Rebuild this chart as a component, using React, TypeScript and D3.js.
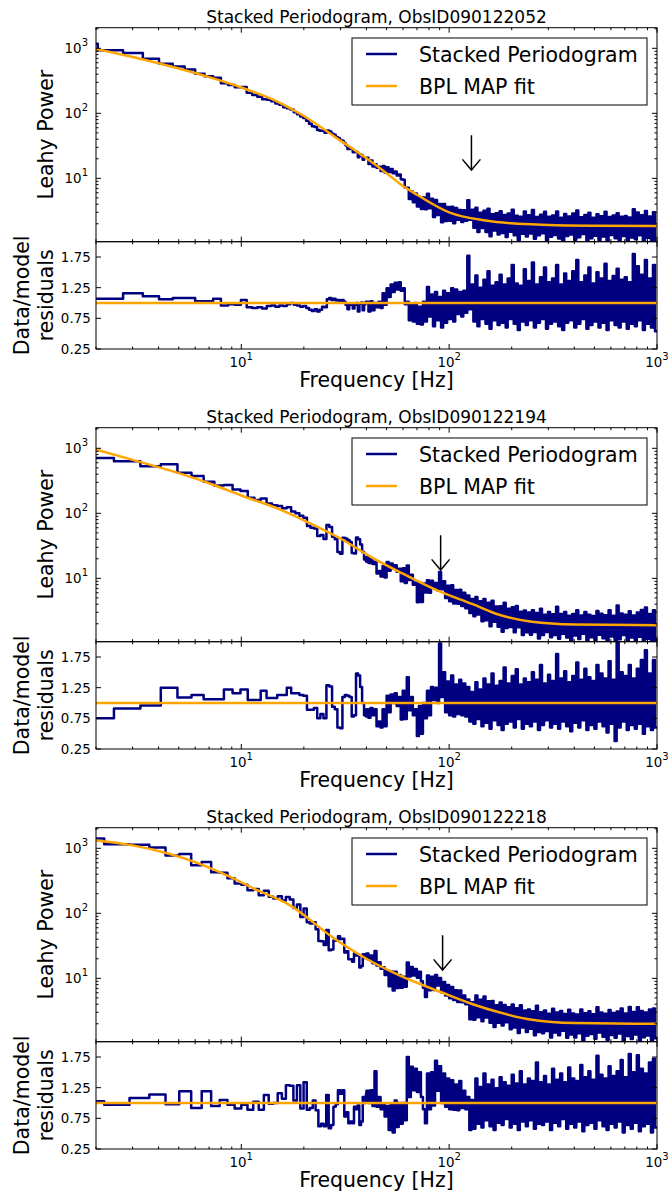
import React from "react";
import * as d3 from "d3";

type Pt = { f: number; fEval: number; r: number };

// ---------------- data ----------------
const TITLES = [
  "Stacked Periodogram, ObsID090122052",
  "Stacked Periodogram, ObsID090122194",
  "Stacked Periodogram, ObsID090122218",
];
const SERIES_LABEL = "Stacked Periodogram";
const FIT_LABEL = "BPL MAP fit";
const X_LABEL = "Frequency [Hz]";
const Y_LABEL = "Leahy Power";
const RES_LABEL = ["Data/model", "residuals"];

const FREQ_DOMAIN: [number, number] = [2, 1000];
const POWER_DOMAIN: [number, number] = [1.06, 2075];
const RESID_DOMAIN: [number, number] = [0.25, 2.0];
const RESID_TICKS = [0.25, 0.75, 1.25, 1.75];

// fitted BPL model curves (frequency [Hz], Leahy power)
const p1ModelFreq = [2, 3, 5, 7, 10, 15, 20, 30, 40, 50, 60, 70, 100, 150, 200, 300, 500, 1000];
const p1ModelPower = [980, 735, 488, 360, 250, 150, 91, 38, 20.3, 12, 7.6, 5.6, 3.0, 2.25, 2.03, 1.92, 1.87, 1.85];
const p2ModelFreq = [2, 3, 5, 7, 10, 15, 20, 30, 43, 60, 87, 130, 174, 250, 400, 1000];
const p2ModelPower = [960, 665, 415, 290, 188, 118, 78, 41, 20.5, 11.8, 6.6, 4.0, 2.75, 2.15, 1.95, 1.9];
const p3ModelFreq = [2, 3, 4.4, 5.9, 8.8, 11.4, 17.1, 28, 40, 58, 93, 130, 174, 250, 400, 1000];
const p3ModelPower = [1320, 1110, 840, 625, 366, 243, 134, 41, 20, 11, 6.0, 4.0, 3.0, 2.3, 2.05, 2.0];

// low-frequency periodogram bins (data/model), bins of constant width
const p1LowStart = 1.38;
const p1LowStep = 0.66;
const p1LowResid = [
  1.07, 1.07, 1.16, 1.11, 1.06, 1.08, 1.08, 1.03, 1.03, 1.07,
  0.96, 0.98, 0.97, 1.05, 0.93, 0.92, 0.93, 0.91, 0.95, 0.96,
  0.94, 0.96, 0.95, 0.98, 1.0, 0.97, 0.96, 0.94, 0.95, 0.92,
  0.89, 0.87, 0.9, 0.86, 0.89, 0.94, 0.93, 1.06, 1.08, 1.05,
  1.07, 1.04, 1.05, 1.03, 1.05, 1.02, 0.97, 0.9, 0.97, 0.98,
  0.91, 0.97, 1.0, 0.86, 0.99, 1.01, 0.88, 0.98, 1.02,
];
const p2LowStart = 1.61;
const p2LowStep = 0.83;
const p2LowResid = [
  0.75, 0.91, 0.96, 1.25, 1.09, 1.13, 1.06, 1.06, 1.22, 1.16,
  1.22, 1.05, 1.05, 1.2, 1.08, 1.08, 1.13, 1.13, 1.25, 1.16,
  1.16, 1.13, 1.12, 0.89, 0.89, 0.92, 0.75, 0.82, 0.75, 1.29,
  1.27, 0.94, 0.9, 0.6, 0.59, 1.1, 1.13, 1.12, 1.1, 0.78,
  0.8, 1.48, 1.45, 1.26, 1.0, 0.8, 0.78,
];
const p3LowStart = 1.48;
const p3LowStep = 0.71;
const p3LowResid = [
  1.03, 0.97, 1.08, 1.14, 0.98, 1.19, 0.92, 1.19, 0.95, 1.05,
  0.97, 0.91, 0.97, 0.89, 1.02, 0.89, 1.13, 0.99, 1.0, 1.16,
  1.07, 1.29, 1.28, 1.04, 1.29, 0.91, 1.34, 0.89, 0.92, 1.04,
  0.88, 0.62, 0.66, 0.62, 1.13, 0.59, 0.64, 0.94, 0.98, 1.21,
  1.15, 1.21, 0.78, 0.85, 0.67, 0.7, 0.67, 0.94, 0.9, 0.96,
  0.64, 0.7, 1.1, 1.0, 1.15,
];

// high-frequency part: upper / lower extremes of data/model in log-spaced bins from 40 Hz to 1000 Hz
const ENV_FROM = 40;
const ENV_TO = 1000;
const p1EnvHi = [
  1.02, 1.03, 1.0, 1.02, 1.16, 1.24, 1.3, 1.33, 1.34, 1.24,
  1.02, 0.98, 1.0, 0.94, 1.02, 1.26, 1.14, 1.18, 1.1, 1.2,
  1.16, 1.24, 1.22, 1.18, 1.2, 1.77,
  1.3, 1.45, 1.25, 1.38, 1.52, 1.28, 1.34, 1.46, 1.3, 1.4,
  1.62, 1.32, 1.28, 1.55, 1.36, 1.66, 1.3, 1.42, 1.58, 1.34,
  1.4, 1.62, 1.3, 1.48, 1.36, 1.52, 1.7, 1.34, 1.45, 1.58,
  1.32, 1.5, 1.4, 1.64, 1.36, 1.44, 1.56, 1.38, 1.42, 1.34,
  1.8, 1.6, 1.46, 1.7, 1.4, 1.62,
];
const p1EnvLo = [
  0.86, 0.88, 0.93, 0.92, 0.97, 1.1, 1.18, 1.22, 1.2, 0.98,
  0.72, 0.7, 0.66, 0.65, 0.7, 0.78, 0.62, 0.72, 0.6, 0.68,
  0.74, 0.7, 0.82, 0.78, 0.84, 0.9,
  0.7, 0.62, 0.74, 0.66, 0.58, 0.72, 0.64, 0.68, 0.6, 0.74,
  0.66, 0.56, 0.7, 0.64, 0.72, 0.6, 0.68, 0.74, 0.58, 0.66,
  0.7, 0.62, 0.56, 0.68, 0.72, 0.6, 0.66, 0.74, 0.58, 0.64,
  0.7, 0.6, 0.68, 0.56, 0.72, 0.64, 0.6, 0.7, 0.58, 0.66,
  0.62, 0.72, 0.56, 0.66, 0.6, 0.54,
];
const p2EnvHi = [
  0.9, 0.92, 0.9, 0.7, 0.9, 1.12, 1.14, 1.16, 1.1, 1.2,
  1.42, 1.1, 0.9, 0.95, 1.0, 1.2, 1.26, 1.25, 1.97, 1.5,
  1.35, 1.45, 1.3, 1.38, 1.32,
  1.26, 1.18, 1.34, 1.22, 1.4, 1.3, 1.48, 1.28, 1.36, 1.58,
  1.32, 1.44, 1.55, 1.3, 1.4, 1.34, 1.5, 1.38, 1.62, 1.32,
  1.46, 1.36, 1.8, 1.4, 1.52, 1.34, 1.44, 1.66, 1.38, 1.56,
  1.42, 1.36, 1.62, 1.48, 1.4, 1.68, 1.38, 1.99, 1.5, 1.44,
  1.62, 1.4, 1.56, 1.7, 1.86, 1.48, 1.7,
];
const p2EnvLo = [
  0.76, 0.8, 0.62, 0.6, 0.62, 0.85, 1.0, 0.95, 0.73, 0.74,
  0.88, 0.8, 0.46, 0.5, 0.75, 0.8, 1.05, 1.0, 1.1, 0.85,
  0.8, 0.78, 0.82, 0.8, 0.78,
  0.7, 0.66, 0.74, 0.62, 0.68, 0.58, 0.72, 0.64, 0.56, 0.66,
  0.7, 0.6, 0.74, 0.58, 0.66, 0.62, 0.7, 0.56, 0.64, 0.72,
  0.6, 0.66, 0.58, 0.7, 0.62, 0.54, 0.68, 0.6, 0.72, 0.56,
  0.64, 0.58, 0.7, 0.62, 0.52, 0.66, 0.38, 0.6, 0.7, 0.56,
  0.64, 0.58, 0.66, 0.5, 0.62, 0.56, 0.6,
];
const p3EnvHi = [
  1.2, 1.21, 1.52, 1.1, 0.99, 0.95, 0.98, 1.04, 1.0, 1.0,
  1.75, 1.59, 1.56, 1.5, 0.9, 1.48, 1.5, 1.69, 1.6, 1.48,
  1.4, 1.37, 1.3, 1.36, 1.2,
  1.1, 1.05, 1.4, 1.26, 1.48, 1.3, 1.38, 1.24, 1.42, 1.34,
  1.28, 1.46, 1.32, 1.52, 1.3, 1.4, 1.36, 1.66, 1.34, 1.44,
  1.3, 1.56, 1.38, 1.48, 1.34, 1.58, 1.4, 1.36, 1.62, 1.42,
  1.52, 1.38, 1.77, 1.46, 1.4, 1.6, 1.44, 1.52, 1.7, 1.42,
  1.8, 1.5, 1.78, 1.56, 1.48, 1.66, 1.72,
];
const p3EnvLo = [
  1.0, 0.95, 0.94, 0.9, 0.78, 0.56, 0.52, 0.61, 0.66, 0.72,
  1.1, 1.21, 1.18, 1.1, 0.67, 0.9, 0.96, 1.2, 1.0, 0.94,
  0.9, 0.89, 0.88, 0.92, 0.9,
  0.56, 0.58, 0.66, 0.6, 0.72, 0.62, 0.56, 0.68, 0.64, 0.74,
  0.6, 0.66, 0.56, 0.7, 0.62, 0.72, 0.58, 0.66, 0.64, 0.7,
  0.56, 0.68, 0.62, 0.74, 0.58, 0.66, 0.6, 0.7, 0.54, 0.64,
  0.68, 0.58, 0.72, 0.62, 0.56, 0.66, 0.6, 0.7, 0.52, 0.64,
  0.58, 0.68, 0.54, 0.62, 0.66, 0.52, 0.6,
];

// arrows marking the QPO candidate
const ARROW_FREQS = [128, 91, 93];
const ARROW_FROM = 46;
const ARROW_TO = 13.4;

const PANELS = [
  { title: TITLES[0], modelFreq: p1ModelFreq, modelPower: p1ModelPower, lowStart: p1LowStart, lowStep: p1LowStep, lowResid: p1LowResid, envHi: p1EnvHi, envLo: p1EnvLo, arrow: ARROW_FREQS[0] },
  { title: TITLES[1], modelFreq: p2ModelFreq, modelPower: p2ModelPower, lowStart: p2LowStart, lowStep: p2LowStep, lowResid: p2LowResid, envHi: p2EnvHi, envLo: p2EnvLo, arrow: ARROW_FREQS[1] },
  { title: TITLES[2], modelFreq: p3ModelFreq, modelPower: p3ModelPower, lowStart: p3LowStart, lowStep: p3LowStep, lowResid: p3LowResid, envHi: p3EnvHi, envLo: p3EnvLo, arrow: ARROW_FREQS[2] },
];

// ---------------- layout ----------------
const WIDTH = 670;
const HEIGHT = 1193;
const FONT = "'DejaVu Sans', sans-serif";
const NAVY = "#000080";
const ORANGE = "#FFA500";
const AX_LEFT = 96;
const AX_RIGHT = 657;
const MAIN_TOP = 27.7;
const MAIN_BOTTOM = 241.7;
const RES_BOTTOM = 349;
const PANEL_STEP = 400;
const MAJOR = 5;
const MINOR = 2.5;
const TICK_FS = 13.4;
const SUP_FS = 10;
const LABEL_FS = 20.5;
const LW = 2.5;

const x = d3.scaleLog().domain(FREQ_DOMAIN).range([AX_LEFT, AX_RIGHT]);
const yMain = d3.scaleLog().domain(POWER_DOMAIN).range([MAIN_BOTTOM, MAIN_TOP]);
const yRes = d3.scaleLinear().domain(RESID_DOMAIN).range([RES_BOTTOM, MAIN_BOTTOM]);

const isDecade = (v: number) => Math.abs(Math.log10(v) - Math.round(Math.log10(v))) < 1e-9;

function buildSeries(lowStart: number, lowStep: number, lowResid: number[], envHi: number[], envLo: number[]): Pt[] {
  const pts: Pt[] = [];
  lowResid.forEach((r, k) => {
    const f = lowStart + k * lowStep;
    if (f < ENV_FROM) pts.push({ f, fEval: f + lowStep / 2, r });
  });
  const n = envHi.length;
  const ratio = ENV_TO / ENV_FROM;
  for (let j = 0; j < n; j++) {
    const fa = ENV_FROM * Math.pow(ratio, j / n);
    const fm = ENV_FROM * Math.pow(ratio, (j + 0.5) / n);
    pts.push({ f: fa, fEval: fa, r: envHi[j] });
    pts.push({ f: fm, fEval: fm, r: envLo[j] });
  }
  pts.push({ f: ENV_TO, fEval: ENV_TO, r: envLo[n - 1] });
  return pts;
}

function Panel({ p, i }: { p: (typeof PANELS)[number]; i: number }) {
  const off = i * PANEL_STEP;
  const logInterp = d3
    .scaleLinear()
    .domain(p.modelFreq.map(Math.log10))
    .range(p.modelPower.map(Math.log10));
  const model = (f: number) => Math.pow(10, logInterp(Math.log10(f)));
  const pts = buildSeries(p.lowStart, p.lowStep, p.lowResid, p.envHi, p.envLo);

  const mainLine = d3.line<Pt>().x((d) => x(d.f)).y((d) => yMain(d.r * model(d.fEval))).curve(d3.curveStepAfter);
  const resLine = d3.line<Pt>().x((d) => x(d.f)).y((d) => yRes(d.r)).curve(d3.curveStepAfter);
  const fitLine = d3
    .line<number>()
    .x((_, k) => x(p.modelFreq[k]))
    .y((v) => yMain(v))
    .curve(d3.curveMonotoneX);
  const unity = d3
    .line<number>()
    .x((f) => x(f))
    .y(() => yRes(1));

  const xt = x.ticks();
  const yt = yMain.ticks();
  const mainH = MAIN_BOTTOM - MAIN_TOP;
  const resH = RES_BOTTOM - MAIN_BOTTOM;
  const w = AX_RIGHT - AX_LEFT;

  const ax = x(p.arrow);
  const ay1 = yMain(ARROW_FROM);
  const ay2 = yMain(ARROW_TO);

  const legX = 352, legY = 38, legW = 295, legH = 67;
  const dataStyle = { fill: "none", stroke: NAVY, strokeWidth: LW, strokeLinejoin: "round" as const };

  return (
    <g transform={`translate(0,${off})`}>
      <defs>
        <clipPath id={`clip-main-${i}`}>
          <rect x={AX_LEFT} y={MAIN_TOP} width={w} height={mainH} />
        </clipPath>
        <clipPath id={`clip-res-${i}`}>
          <rect x={AX_LEFT} y={MAIN_BOTTOM} width={w} height={resH} />
        </clipPath>
      </defs>

      <text x={(AX_LEFT + AX_RIGHT) / 2} y={23.3} textAnchor="middle" fontSize={17} fontFamily={FONT}>
        {p.title}
      </text>

      {/* main panel */}
      <g clipPath={`url(#clip-main-${i})`}>
        <path d={mainLine(pts) || ""} {...dataStyle} />
        <path d={fitLine(p.modelPower) || ""} fill="none" stroke={ORANGE} strokeWidth={LW} />
      </g>
      {/* residual panel */}
      <g clipPath={`url(#clip-res-${i})`}>
        <path d={resLine(pts) || ""} {...dataStyle} />
        <path d={unity(FREQ_DOMAIN) || ""} fill="none" stroke={ORANGE} strokeWidth={LW} />
      </g>

      {/* arrow */}
      <g stroke="#000" strokeWidth={1.5} fill="none">
        <line x1={ax} y1={ay1} x2={ax} y2={ay2} />
        <polyline points={`${ax - 9},${ay2 - 10.7} ${ax},${ay2} ${ax + 9},${ay2 - 10.7}`} />
      </g>

      {/* legend */}
      <rect x={legX} y={legY} width={legW} height={legH} fill="#fff" stroke="#000" strokeWidth={1} />
      <line x1={366} x2={397} y1={54} y2={54} stroke={NAVY} strokeWidth={LW} />
      <line x1={366} x2={397} y1={86} y2={86} stroke={ORANGE} strokeWidth={LW} />
      <text x={419} y={62} fontSize={LABEL_FS} fontFamily={FONT}>{SERIES_LABEL}</text>
      <text x={419} y={94} fontSize={LABEL_FS} fontFamily={FONT}>{FIT_LABEL}</text>

      {/* frames */}
      <rect x={AX_LEFT} y={MAIN_TOP} width={w} height={mainH} fill="none" stroke="#000" strokeWidth={1} />
      <rect x={AX_LEFT} y={MAIN_BOTTOM} width={w} height={resH} fill="none" stroke="#000" strokeWidth={1} />

      {/* ticks */}
      <g stroke="#000" strokeWidth={1}>
        {xt.map((v, k) => {
          const len = isDecade(v) ? MAJOR : MINOR;
          const xx = x(v);
          return (
            <g key={`xt${k}`}>
              <line x1={xx} x2={xx} y1={MAIN_TOP} y2={MAIN_TOP + len} />
              <line x1={xx} x2={xx} y1={MAIN_BOTTOM} y2={MAIN_BOTTOM - len} />
              <line x1={xx} x2={xx} y1={MAIN_BOTTOM} y2={MAIN_BOTTOM + len} />
              <line x1={xx} x2={xx} y1={RES_BOTTOM} y2={RES_BOTTOM - len} />
            </g>
          );
        })}
        {yt.map((v, k) => {
          const len = isDecade(v) ? MAJOR : MINOR;
          const yy = yMain(v);
          return (
            <g key={`yt${k}`}>
              <line x1={AX_LEFT} x2={AX_LEFT + len} y1={yy} y2={yy} />
              <line x1={AX_RIGHT} x2={AX_RIGHT - len} y1={yy} y2={yy} />
            </g>
          );
        })}
        {RESID_TICKS.map((v, k) => {
          const yy = yRes(v);
          return (
            <g key={`rt${k}`}>
              <line x1={AX_LEFT} x2={AX_LEFT + MAJOR} y1={yy} y2={yy} />
              <line x1={AX_RIGHT} x2={AX_RIGHT - MAJOR} y1={yy} y2={yy} />
            </g>
          );
        })}
      </g>

      {/* tick labels */}
      <g fontFamily={FONT} fontSize={TICK_FS} fill="#000">
        {yt.filter(isDecade).map((v, k) => (
          <text key={`yl${k}`} x={AX_LEFT - 8} y={yMain(v) + 5} textAnchor="end">
            <tspan>10</tspan>
            <tspan dy={-7} fontSize={SUP_FS}>{String(Math.round(Math.log10(v)))}</tspan>
          </text>
        ))}
        {RESID_TICKS.map((v, k) => (
          <text key={`rl${k}`} x={AX_LEFT - 5.3} y={yRes(v) + 5} textAnchor="end">
            {v.toFixed(2)}
          </text>
        ))}
        {xt.filter(isDecade).map((v, k) => (
          <text key={`xl${k}`} x={x(v)} y={RES_BOTTOM + 17.7} textAnchor="middle">
            <tspan>10</tspan>
            <tspan dy={-6.5} fontSize={SUP_FS}>{String(Math.round(Math.log10(v)))}</tspan>
          </text>
        ))}
      </g>

      {/* axis labels */}
      <g fontFamily={FONT} fontSize={LABEL_FS} fill="#000">
        <text x={(AX_LEFT + AX_RIGHT) / 2} y={RES_BOTTOM + 38} textAnchor="middle">{X_LABEL}</text>
        <text transform={`translate(52.5,${(MAIN_TOP + MAIN_BOTTOM) / 2}) rotate(-90)`} textAnchor="middle">
          {Y_LABEL}
        </text>
        <text transform={`translate(28.5,${(MAIN_BOTTOM + RES_BOTTOM) / 2}) rotate(-90)`} textAnchor="middle">
          {RES_LABEL[0]}
        </text>
        <text transform={`translate(52.5,${(MAIN_BOTTOM + RES_BOTTOM) / 2}) rotate(-90)`} textAnchor="middle">
          {RES_LABEL[1]}
        </text>
      </g>
    </g>
  );
}

export default function App() {
  return (
    <svg
      width={WIDTH}
      height={HEIGHT}
      viewBox={`0 0 ${WIDTH} ${HEIGHT}`}
      style={{ position: "absolute", left: 0, top: 0, display: "block", background: "#fff" }}
    >
      <rect x={0} y={0} width={WIDTH} height={HEIGHT} fill="#fff" />
      {PANELS.map((p, i) => (
        <Panel key={i} p={p} i={i} />
      ))}
    </svg>
  );
}
